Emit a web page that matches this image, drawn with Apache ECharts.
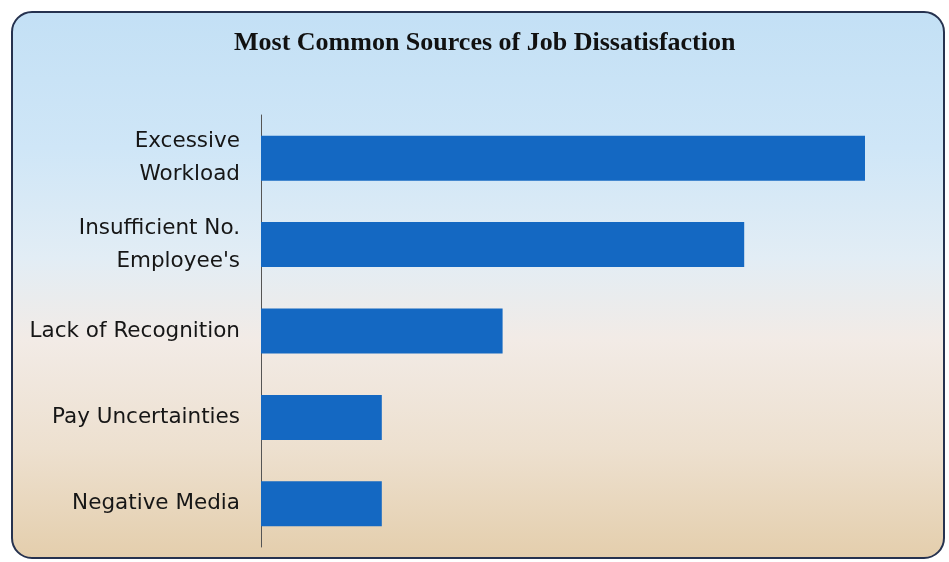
<!DOCTYPE html>
<html><head><meta charset="utf-8">
<script src="https://cdn.jsdelivr.net/npm/echarts@6/dist/echarts.min.js"></script>
<style>html,body{margin:0;padding:0;background:#fff}#c{width:949px;height:562px}</style>
</head><body><div id="c"></div>
<script>
const categories = ["Excessive\nWorkload", "Insufficient No.\nEmployee's", "Lack of Recognition", "Pay Uncertainties", "Negative Media"];
const values = [5, 4, 2, 1, 1];
const titleText = "Most Common Sources of Job Dissatisfaction";

const chart = echarts.init(document.getElementById('c'));
chart.setOption({
  backgroundColor: '#ffffff',
  animation: false,
  graphic: [{
    type: 'rect', z: -10, silent: true,
    shape: {x: 12, y: 12, width: 932, height: 546, r: 20},
    style: {
      fill: new echarts.graphic.LinearGradient(0, 0, 0, 1, [
        {offset: 0, color: '#c3e0f5'},
        {offset: 0.25, color: '#cfe6f7'},
        {offset: 0.45, color: '#e2edf5'},
        {offset: 0.6, color: '#f2ebe6'},
        {offset: 0.8, color: '#ede0cf'},
        {offset: 1, color: '#e4ceac'}
      ]),
      stroke: '#26324f', lineWidth: 2
    }
  }],
  title: {
    text: titleText, left: 229, top: 25,
    textStyle: {fontFamily: 'Liberation Serif', fontWeight: 'bold', fontSize: 26, color: '#111'}
  },
  grid: {left: 261, top: 115, width: 604, height: 432},
  xAxis: {type: 'value', min: 0, max: 5, show: false},
  yAxis: {
    type: 'category', data: categories, inverse: true,
    axisLine: {show: true, lineStyle: {color: '#555', width: 1}},
    axisTick: {show: false},
    axisLabel: {margin: 21, padding: [9, 0, 0, 0], fontFamily: 'DejaVu Sans', fontSize: 21.5, color: '#161616', lineHeight: 33, align: 'right'}
  },
  series: [{
    type: 'bar', data: values, barWidth: 45,
    itemStyle: {color: '#1468c2'}
  }]
});
</script></body></html>
